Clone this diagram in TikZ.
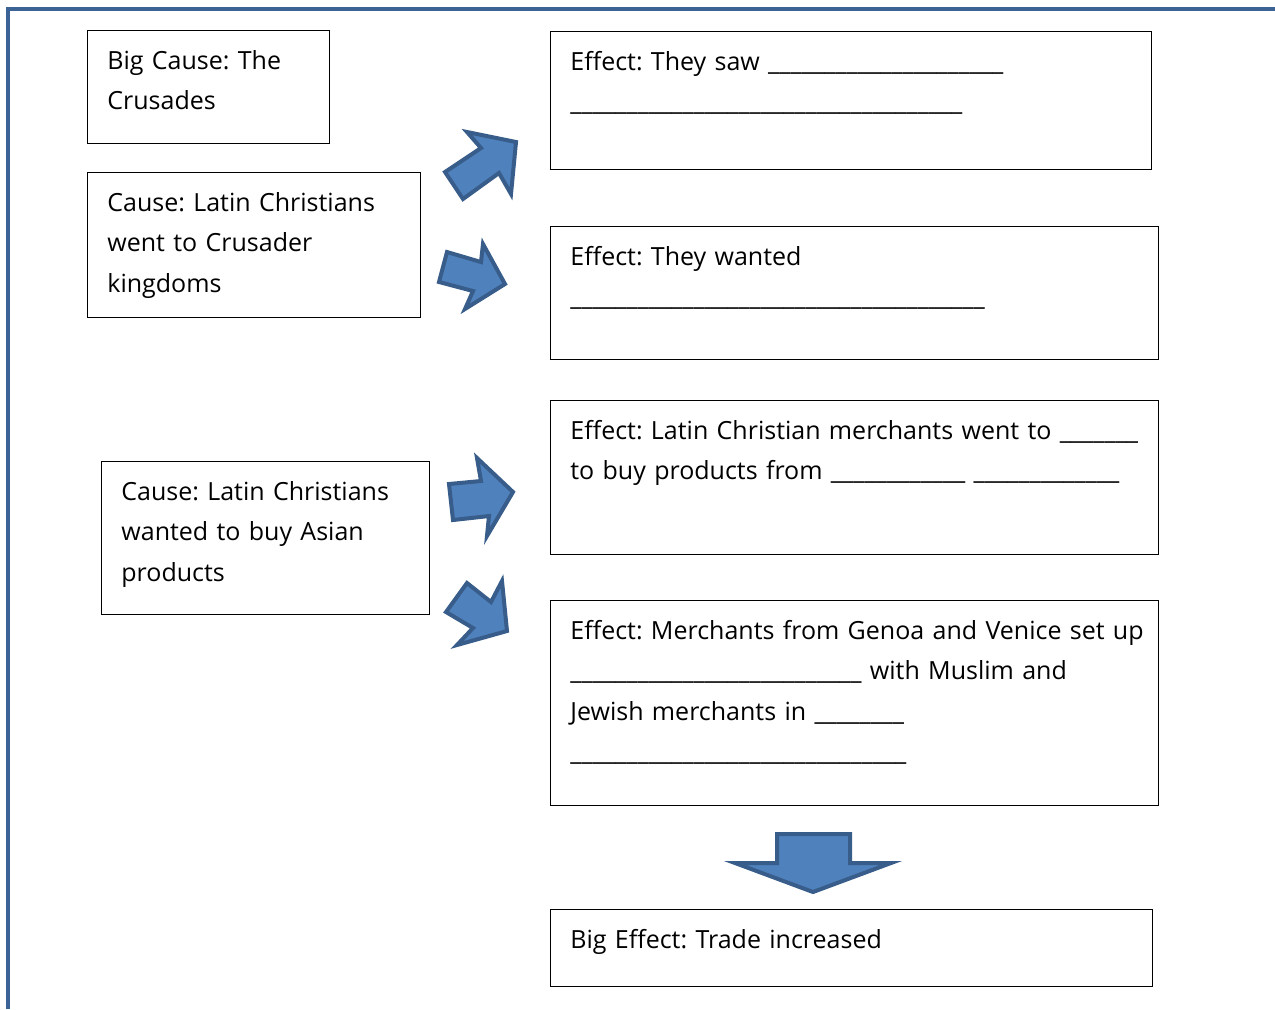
\documentclass[tikz,border=0pt]{standalone}
\usepackage{fontspec}
\setmainfont{Open Sans}
\frenchspacing
\definecolor{pageblue}{RGB}{60,99,149}
\definecolor{arrowfill}{RGB}{79,129,189}
\definecolor{arrowline}{RGB}{56,93,138}
\newcommand\blanks[1]{\foreach\i in {1,...,#1}{\_}}
\begin{document}
\begin{tikzpicture}[x=0.5pt, y=-0.5pt,
    frame/.style={draw, line width=0.7pt, anchor=north west, inner sep=0pt},
    txt/.style={anchor=base west, inner sep=0pt, text width=330pt, align=left,
        font=\fontsize{12.5}{20.25}\selectfont},
    blockarrow/.style={fill=arrowfill, draw=arrowline, line width=2pt, line join=miter}]
    \useasboundingbox (0,0) rectangle (1275,1009);
    % page border
    \draw[pageblue, line width=2.25pt] (8,1009) -- (8,9) -- (1275,9);

    % causes
    \node[frame, minimum width=121pt, minimum height=56.5pt] (bigcause) at (87,30) {};
    \node[txt] (bigcausetxt) at ([shift={(20,39)}]bigcause.north west) {Big Cause: The\\Crusades};
    \node[frame, minimum width=166.5pt, minimum height=72.5pt] (cause1) at (87,172) {};
    \node[txt] (cause1txt) at ([shift={(20,39)}]cause1.north west) {Cause: Latin Christians\\went to Crusader\\kingdoms};
    \node[frame, minimum width=164pt, minimum height=76.5pt] (cause2) at (101,461) {};
    \node[txt] (cause2txt) at ([shift={(20,39)}]cause2.north west) {Cause: Latin Christians\\wanted to buy Asian\\products};

    % effects
    \node[frame, minimum width=300.5pt, minimum height=69pt] (effect1) at (550,31) {};
    \node[txt] (effect1txt) at ([shift={(20,39)}]effect1.north west) {Effect: They saw \blanks{21}\\\blanks{35}};
    \node[frame, minimum width=304pt, minimum height=66.5pt] (effect2) at (550,226) {};
    \node[txt] (effect2txt) at ([shift={(20,39)}]effect2.north west) {Effect: They wanted\\\blanks{37}};
    \node[frame, minimum width=304pt, minimum height=77pt] (effect3) at (550,400) {};
    \node[txt] (effect3txt) at ([shift={(20,39)}]effect3.north west) {Effect: Latin Christian merchants went to \blanks{7}\\to buy products from \blanks{12} \blanks{13}};
    \node[frame, minimum width=304pt, minimum height=102.5pt] (effect4) at (550,600) {};
    \node[txt] (effect4txt) at ([shift={(20,39)}]effect4.north west) {Effect: Merchants from Genoa and Venice set up\\\blanks{26} with Muslim and\\Jewish merchants in \blanks{8}\\\blanks{30}};
    \node[frame, minimum width=301pt, minimum height=38.5pt] (bigeffect) at (550,909) {};
    \node[txt] (bigeffecttxt) at ([shift={(20,39)}]bigeffect.north west) {Big Effect: Trade increased};

    % block arrows
    \draw[blockarrow] (467,132) -- (516,142) -- (511,194) -- (499,173) -- (463,199) -- (445,172) -- (481,148) -- cycle;
    \draw[blockarrow] (447,252) -- (481,262) -- (483,244) -- (505,284) -- (465,309) -- (473,291) -- (439,282) -- cycle;
    \draw[blockarrow] (449,484) -- (481,481) -- (477,458) -- (513,492) -- (487,536) -- (489,516) -- (453,520) -- cycle;
    \draw[blockarrow] (467,583) -- (491,602) -- (502,581) -- (507,631) -- (457,645) -- (473,628) -- (446,612) -- cycle;
    \draw[blockarrow] (777,834) -- (850,834) -- (850,863) -- (891,863) -- (813,892) -- (735,863) -- (777,863) -- cycle;
\end{tikzpicture}
\end{document}
